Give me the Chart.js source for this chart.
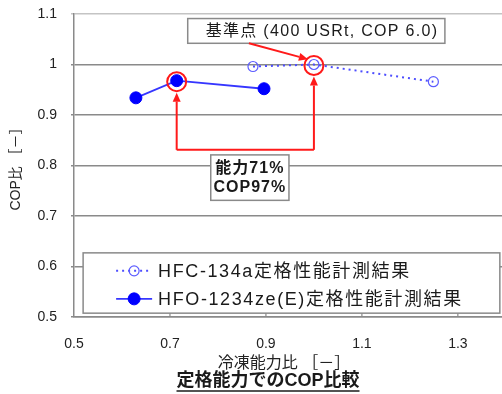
<!DOCTYPE html>
<html><head><meta charset="utf-8">
<script src="https://cdn.jsdelivr.net/npm/chart.js@4"></script>
<style>html,body{margin:0;padding:0;background:#fff}#wrap{width:502px;height:394px}</style>
</head><body><div id="wrap"><canvas id="c" width="502" height="394"></canvas></div>
<script>
const xTicks = [0.5, 0.7, 0.9, 1.1, 1.3];
const yTicks = [0.5, 0.6, 0.7, 0.8, 0.9, 1, 1.1];
const hfcLabel = 'HFC-134a定格性能計測結果';
const hfcCapacity = [0.873, 1.0, 1.249];
const hfcCop = [0.996, 1.0, 0.966];
const hfoLabel = 'HFO-1234ze(E)定格性能計測結果';
const hfoCapacity = [0.629, 0.714, 0.896];
const hfoCop = [0.934, 0.968, 0.952];
const xTitle = '冷凍能力比 ［－］';
const yTitle = 'COP比 ［－］';
const caption = '定格能力でのCOP比較';
const refNote = '基準点 (400 USRt, COP 6.0)';
const ratioNote = ['能力71%', 'COP97%'];

const FONT = "'Liberation Sans', 'Noto Sans CJK JP', sans-serif";
Chart.defaults.font.family = FONT;
Chart.defaults.color = '#222';

const RED = '#ff1a1a';
const GRID = '#8a8a8a';

function arrow(ctx, x1, y1, x2, y2, head) {
  const a = Math.atan2(y2 - y1, x2 - x1);
  const bx = x2 - head * Math.cos(a), by = y2 - head * Math.sin(a);
  ctx.beginPath(); ctx.moveTo(x1, y1); ctx.lineTo(bx, by); ctx.stroke();
  ctx.beginPath();
  ctx.moveTo(x2, y2);
  ctx.lineTo(bx + 4 * Math.sin(a), by - 4 * Math.cos(a));
  ctx.lineTo(bx - 4 * Math.sin(a), by + 4 * Math.cos(a));
  ctx.closePath(); ctx.fill();
}

const overlay = {
  id: 'overlay',
  afterDatasetsDraw(chart) {
    const {ctx, scales: {x, y}, chartArea} = chart;
    const X = v => x.getPixelForValue(v), Y = v => y.getPixelForValue(v);
    ctx.save();
    // inner tick marks on x axis
    ctx.strokeStyle = GRID; ctx.lineWidth = 1.2;
    xTicks.slice(1).forEach(v => {
      ctx.beginPath(); ctx.moveTo(X(v), chartArea.bottom); ctx.lineTo(X(v), chartArea.bottom - 4); ctx.stroke();
    });

    // red circles around the compared points
    const hfoPt = chart.getDatasetMeta(1).data[1];
    const hfcPt = chart.getDatasetMeta(0).data[1];
    ctx.strokeStyle = RED; ctx.fillStyle = RED; ctx.lineWidth = 2;
    [hfoPt, hfcPt].forEach(p => { ctx.beginPath(); ctx.arc(p.x, p.y + 1, 9.5, 0, Math.PI * 2); ctx.stroke(); });
    // elbow connector with arrows
    const yE = Y(0.831);
    ctx.beginPath(); ctx.moveTo(hfoPt.x, yE); ctx.lineTo(hfcPt.x, yE); ctx.stroke();
    arrow(ctx, hfoPt.x, yE, hfoPt.x, hfoPt.y + 12, 9);
    arrow(ctx, hfcPt.x, yE, hfcPt.x, hfcPt.y + 12, 9);

    // reference box
    const b1l = X(0.737), b1r = X(1.273), b1t = Y(1.091), b1b = Y(1.042);
    ctx.fillStyle = '#fff'; ctx.fillRect(b1l, b1t, b1r - b1l, b1b - b1t);
    ctx.strokeStyle = GRID; ctx.lineWidth = 1.5; ctx.strokeRect(b1l, b1t, b1r - b1l, b1b - b1t);
    ctx.fillStyle = '#1a1a1a'; ctx.font = '16px ' + FONT; ctx.textBaseline = 'middle'; ctx.textAlign = 'left';
    ctx.letterSpacing = '1.3px';
    ctx.fillText(refNote, b1l + 18, (b1t + b1b) / 2 + 1);
    ctx.letterSpacing = '0px';
    ctx.strokeStyle = RED; ctx.fillStyle = RED; ctx.lineWidth = 2;
    arrow(ctx, X(0.8646), b1b, X(0.9875), Y(1.0105), 9);

    // ratio box
    const b2l = X(0.785), b2r = X(0.948), b2t = Y(0.821), b2b = Y(0.731);
    ctx.fillStyle = '#fff'; ctx.fillRect(b2l, b2t, b2r - b2l, b2b - b2t);
    ctx.strokeStyle = GRID; ctx.lineWidth = 1.5; ctx.strokeRect(b2l, b2t, b2r - b2l, b2b - b2t);
    ctx.fillStyle = '#1a1a1a'; ctx.font = 'bold 16px ' + FONT; ctx.textAlign = 'center';
    ctx.letterSpacing = '1px';
    ctx.fillText(ratioNote[0], (b2l + b2r) / 2, b2t + 14);
    ctx.fillText(ratioNote[1], (b2l + b2r) / 2, b2t + 33);
    ctx.letterSpacing = '0px';

    // legend
    const ll = X(0.519), lr = X(1.3875), lt = Y(0.627), lb = Y(0.5076);
    ctx.fillStyle = '#fff'; ctx.fillRect(ll, lt, lr - ll, lb - lt);
    ctx.strokeStyle = GRID; ctx.lineWidth = 1.5; ctx.strokeRect(ll, lt, lr - ll, lb - lt);
    chart.data.datasets.forEach((ds, i) => {
      const cy = lt + 18 + i * 28;
      ctx.save();
      ctx.strokeStyle = ds.borderColor; ctx.lineWidth = ds.borderWidth;
      ctx.setLineDash(ds.borderDash || []);
      ctx.beginPath(); ctx.moveTo(ll + 33, cy); ctx.lineTo(ll + 69, cy); ctx.stroke();
      ctx.setLineDash([]);
      ctx.beginPath(); ctx.arc(ll + 51, cy, ds.pointRadius, 0, Math.PI * 2);
      if (ds.pointBackgroundColor !== 'rgba(0,0,0,0)') { ctx.fillStyle = ds.pointBackgroundColor; ctx.fill(); }
      ctx.strokeStyle = ds.pointBorderColor; ctx.lineWidth = ds.pointBorderWidth; ctx.stroke();
      ctx.restore();
      ctx.fillStyle = '#1a1a1a'; ctx.font = '18px ' + FONT; ctx.textAlign = 'left'; ctx.textBaseline = 'middle';
      ctx.letterSpacing = '1.6px';
      ctx.fillText(ds.label, ll + 75, cy + 1);
      ctx.letterSpacing = '0px';
    });

    // caption
    ctx.fillStyle = '#1a1a1a'; ctx.font = 'bold 18px ' + FONT; ctx.textAlign = 'center'; ctx.textBaseline = 'middle';
    const cx = 268, cyy = 381;
    ctx.fillText(caption, cx, cyy);
    const w = ctx.measureText(caption).width;
    ctx.strokeStyle = '#1a1a1a'; ctx.lineWidth = 1.5;
    ctx.beginPath(); ctx.moveTo(cx - w / 2, cyy + 10); ctx.lineTo(cx + w / 2, cyy + 10); ctx.stroke();
    ctx.restore();
  }
};

new Chart(document.getElementById('c'), {
  type: 'scatter',
  data: {
    datasets: [
      {
        label: hfcLabel,
        data: hfcCapacity.map((v, i) => ({x: v, y: hfcCop[i]})),
        showLine: true,
        borderColor: '#4d4dff', borderWidth: 2, borderDash: [2, 4],
        pointRadius: 5, pointBackgroundColor: 'rgba(0,0,0,0)',
        pointBorderColor: '#5c5cff', pointBorderWidth: 1.2
      },
      {
        label: hfoLabel,
        data: hfoCapacity.map((v, i) => ({x: v, y: hfoCop[i]})),
        showLine: true,
        borderColor: '#3636ff', borderWidth: 1.8,
        pointRadius: 6, pointBackgroundColor: '#0000ff',
        pointBorderColor: '#0000ff', pointBorderWidth: 1
      }
    ]
  },
  options: {
    responsive: false, animation: false, devicePixelRatio: 1,
    layout: {autoPadding: false, padding: {left: 0, right: 0, top: 14, bottom: 20}},
    plugins: {legend: {display: false}, tooltip: {enabled: false}},
    scales: {
      x: {
        type: 'linear', min: 0.5, max: 1.392,
        afterBuildTicks: s => { s.ticks = xTicks.map(v => ({value: v})); },
        afterFit: s => { s.height = 57; s.paddingLeft = 0; s.paddingRight = 0; },
        grid: {display: false, drawTicks: false},
        border: {display: true, color: GRID, width: 1.5},
        ticks: {font: {size: 14}, padding: 19, maxRotation: 0, autoSkip: false, color: '#222', callback: v => String(v)},
        title: {display: true, text: xTitle + '\u3000', font: {size: 16}, padding: {top: 0, bottom: 1}, color: '#222'}
      },
      y: {
        type: 'linear', min: 0.5, max: 1.1,
        afterBuildTicks: s => { s.ticks = yTicks.map(v => ({value: v})); },
        afterFit: s => { s.width = 74; s.paddingTop = 0; s.paddingBottom = 0; },
        grid: {
          color: c => (c.tick && c.tick.value >= 1.1) ? '#c4c4c4' : GRID,
          lineWidth: 1.5, tickLength: 3, drawTicks: true
        },
        border: {display: true, color: GRID, width: 1.5},
        ticks: {font: {size: 14}, padding: 14, color: '#222', callback: v => String(v)},
        title: {display: true, text: yTitle, font: {size: 14}, padding: {top: 8, bottom: 0}, color: '#222'}
      }
    }
  },
  plugins: [overlay]
});
</script>
</body></html>
